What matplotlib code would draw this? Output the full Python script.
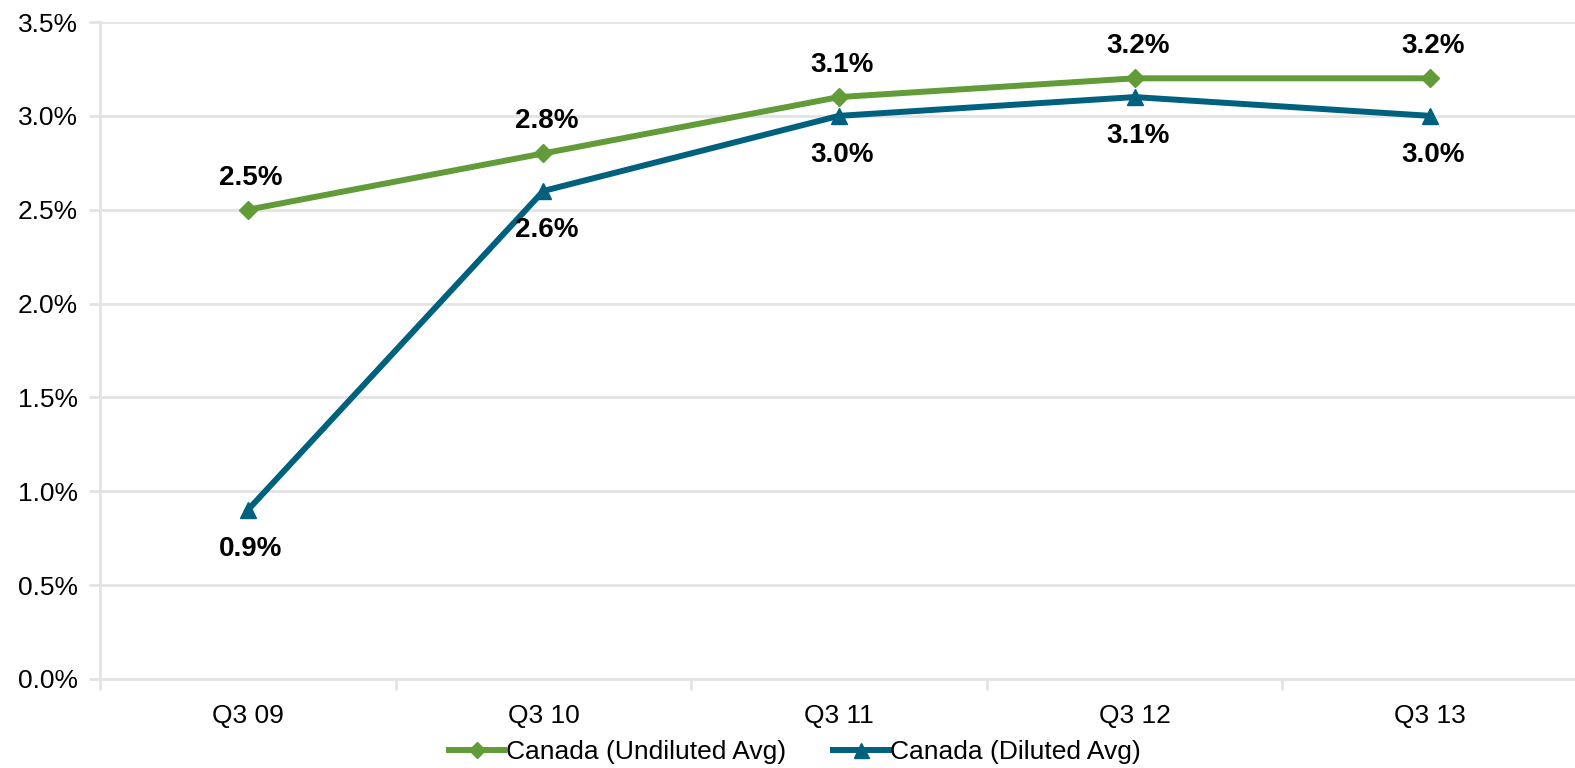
import matplotlib
matplotlib.use("Agg")
import matplotlib.pyplot as plt
from matplotlib.ticker import FuncFormatter

plt.rcParams['font.family'] = ['Liberation Sans', 'DejaVu Sans']

quarters = ['Q3 09', 'Q3 10', 'Q3 11', 'Q3 12', 'Q3 13']
undiluted = [2.5, 2.8, 3.1, 3.2, 3.2]
diluted = [0.9, 2.6, 3.0, 3.1, 3.0]

green = '#629C38'
teal = '#00617F'
grid_col = '#E3E3E3'

fig = plt.figure(figsize=(15.75, 7.68), dpi=100)
ax = fig.add_axes([100 / 1575, 1 - 679 / 768, 1478 / 1575, (679 - 22) / 768])

x = list(range(len(quarters)))
ax.plot(x, undiluted, color=green, lw=4.3, marker='D', ms=9,
        label='Canada (Undiluted Avg)')
ax.plot(x, diluted, color=teal, lw=4.3, marker='^', ms=12,
        label='Canada (Diluted Avg)')

for xi, v in zip(x, undiluted):
    ax.annotate(f'{v:.1f}%', (xi, v), xytext=(3, 32), textcoords='offset pixels',
                ha='center', va='center', fontsize=20, fontweight='bold')
for xi, v in zip(x, diluted):
    ax.annotate(f'{v:.1f}%', (xi, v), xytext=(3, -39), textcoords='offset pixels',
                ha='center', va='center', fontsize=20, fontweight='bold')

ax.set_xlim(-0.5, len(quarters) - 0.5)
ax.set_ylim(0, 3.5)
ax.set_yticks([i * 0.5 for i in range(8)])
ax.yaxis.set_major_formatter(FuncFormatter(lambda v, p: f'{v:.1f}%'))
ax.set_xticks(x)
ax.set_xticklabels(quarters)
ax.set_xticks([i - 0.5 for i in range(len(quarters) + 1)], minor=True)

ax.grid(axis='y', color=grid_col, lw=2)
ax.set_axisbelow(True)
for s in ['top', 'right']:
    ax.spines[s].set_visible(False)
for s in ['left', 'bottom']:
    ax.spines[s].set_color(grid_col)
    ax.spines[s].set_linewidth(2)

ax.tick_params(axis='y', length=8, color=grid_col, width=2, labelsize=19, pad=8)
ax.tick_params(axis='x', which='major', length=0, labelsize=19, pad=18)
ax.tick_params(axis='x', which='minor', length=8, color=grid_col, width=2)

fig.legend(loc='center', bbox_to_anchor=(795 / 1575, 16 / 768), ncol=2,
           frameon=False, fontsize=19,
           handlelength=2.1, handletextpad=0.05, columnspacing=1.8, markerscale=0.9)

fig.savefig('out.png', dpi=100)
